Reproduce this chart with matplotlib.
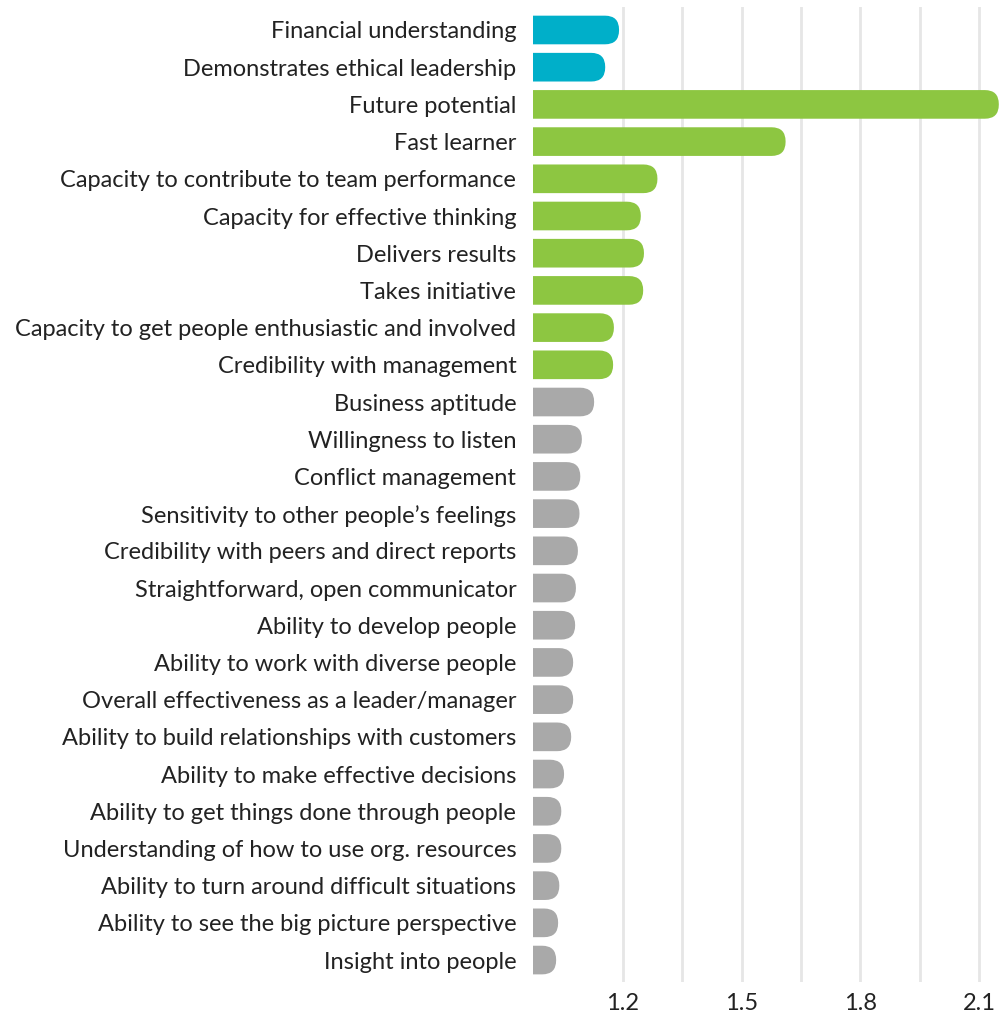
import matplotlib.pyplot as plt
from matplotlib.patches import FancyBboxPatch

labels = [
    "Financial understanding",
    "Demonstrates ethical leadership",
    "Future potential",
    "Fast learner",
    "Capacity to contribute to team performance",
    "Capacity for effective thinking",
    "Delivers results",
    "Takes initiative",
    "Capacity to get people enthusiastic and involved",
    "Credibility with management",
    "Business aptitude",
    "Willingness to listen",
    "Conflict management",
    "Sensitivity to other people\u2019s feelings",
    "Credibility with peers and direct reports",
    "Straightforward, open communicator",
    "Ability to develop people",
    "Ability to work with diverse people",
    "Overall effectiveness as a leader/manager",
    "Ability to build relationships with customers",
    "Ability to make effective decisions",
    "Ability to get things done through people",
    "Understanding of how to use org. resources",
    "Ability to turn around difficult situations",
    "Ability to see the big picture perspective",
    "Insight into people",
]
values = [1.19, 1.155, 2.15, 1.611, 1.287, 1.245, 1.253, 1.251, 1.177, 1.175,
          1.127, 1.096, 1.092, 1.090, 1.086, 1.081, 1.079, 1.074, 1.074, 1.069,
          1.051, 1.044, 1.044, 1.039, 1.036, 1.031]
groups = ["teal"] * 2 + ["green"] * 8 + ["gray"] * 16

colors = {"teal": "#00AFC9", "green": "#8DC641", "gray": "#A9A9A9"}
xticks = [1.2, 1.5, 1.8, 2.1]
xgrid = [1.2, 1.35, 1.5, 1.65, 1.8, 1.95, 2.1]

W, H = 1000, 1025
fig = plt.figure(figsize=(W / 100, H / 100), dpi=100)
ax_l, ax_r, ax_t, ax_b = 533, 1000, 7, 982
ax = fig.add_axes([ax_l / W, 1 - ax_b / H, (ax_r - ax_l) / W, (ax_b - ax_t) / H])

xmin, xmax = 0.9725, 2.153
ymin, ymax = 25.59, -0.618
ax.set_xlim(xmin, xmax)
ax.set_ylim(ymin, ymax)

for g in xgrid:
    ax.axvline(g, color="#E6E6E6", lw=2, zorder=0)

# rounded right ends; the left ends start off-axis and get clipped
px_x = (ax_r - ax_l) / (xmax - xmin)
px_y = (ax_b - ax_t) / (ymin - ymax)
aspect = px_x / px_y
bh = 0.77
r = 14 / px_x
start = xmin - 0.1
for i, (v, g) in enumerate(zip(values, groups)):
    p = FancyBboxPatch((start, i - bh / 2), v - start, bh,
                       boxstyle=f"round,pad=0,rounding_size={r}",
                       mutation_aspect=aspect, fc=colors[g], ec="none",
                       zorder=2, clip_on=True)
    ax.add_patch(p)

ax.set_yticks(range(len(labels)))
ax.set_yticklabels(labels, fontsize=17, color="#222222", family="Lato")
ax.set_xticks(xticks)
ax.set_xticklabels([f"{t:.1f}" for t in xticks], fontsize=17, color="#222222", family="Lato")
ax.tick_params(axis="y", length=0, pad=12)
ax.tick_params(axis="x", length=0, pad=8)
for s in ax.spines.values():
    s.set_visible(False)

fig.savefig("out.png", dpi=100)
